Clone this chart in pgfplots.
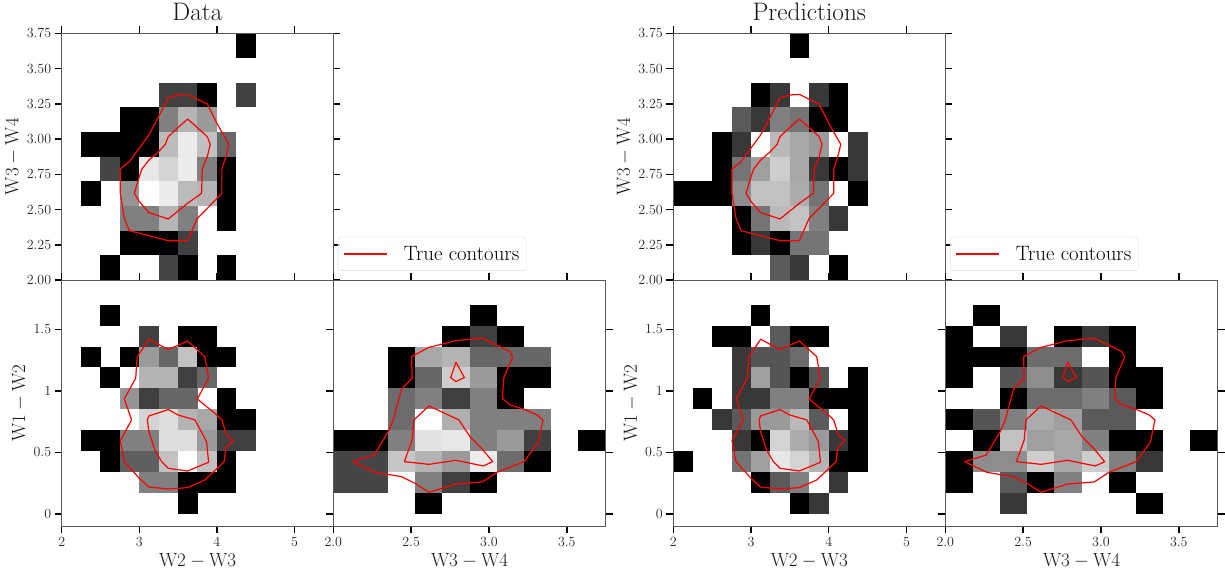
\RequirePackage{fix-cm}
\documentclass[border=0pt]{standalone}
\usepackage{fontspec}
\usepackage{pgfplots}
\usepackage{pgfplotstable}
\pgfplotsset{compat=1.18}
\pgfdeclareplotmark{cellA}{\pgfpathrectangle{\pgfpoint{-9.72pt}{-12.34pt}}{\pgfpoint{19.44pt}{24.68pt}}\pgfusepathqfill}
\pgfdeclareplotmark{cellB}{\pgfpathrectangle{\pgfpoint{-9.72pt}{-10.47pt}}{\pgfpoint{19.44pt}{20.94pt}}\pgfusepathqfill}
\pgfdeclareplotmark{cellC}{\pgfpathrectangle{\pgfpoint{-13.62pt}{-10.47pt}}{\pgfpoint{27.24pt}{20.94pt}}\pgfusepathqfill}

% ---- Data panels
\pgfplotstableread[row sep=\\]{
x y c\\
4.375 3.6625 0\\
3.375 3.3125 .25\\ 3.625 3.3125 .25\\ 3.875 3.3125 0\\ 4.375 3.3125 .25\\
2.875 3.1375 0\\ 3.125 3.1375 0\\ 3.375 3.1375 .5\\ 3.625 3.1375 .7\\ 3.875 3.1375 .6\\
2.375 2.9625 0\\ 2.625 2.9625 0\\ 2.875 2.9625 0\\ 3.125 2.9625 0\\ 3.375 2.9625 .73\\ 3.625 2.9625 .92\\ 3.875 2.9625 .75\\ 4.125 2.9625 .4\\
2.625 2.7875 .27\\ 2.875 2.7875 0\\ 3.125 2.7875 .9\\ 3.375 2.7875 .82\\ 3.625 2.7875 .92\\ 3.875 2.7875 .5\\ 4.125 2.7875 0\\
2.375 2.6125 0\\ 2.875 2.6125 .58\\ 3.375 2.6125 .92\\ 3.625 2.6125 .73\\ 3.875 2.6125 .7\\ 4.125 2.6125 0\\
2.875 2.4375 .5\\ 3.125 2.4375 .5\\ 3.375 2.4375 .7\\ 3.625 2.4375 .5\\ 4.125 2.4375 0\\
2.875 2.2625 0\\ 3.125 2.2625 0\\ 3.375 2.2625 0\\ 3.625 2.2625 .25\\
2.625 2.0875 0\\ 3.375 2.0875 .27\\ 3.625 2.0875 0\\ 4.125 2.0875 0\\
}\dataTop
\pgfplotstableread[row sep=\\]{
x y c\\
2.625 1.615 0\\
3.125 1.445 .25\\ 3.625 1.445 0\\ 3.875 1.445 0\\
2.375 1.275 0\\ 2.875 1.275 0\\ 3.125 1.275 .6\\ 3.375 1.275 .4\\ 3.625 1.275 .75\\ 3.875 1.275 0\\ 4.125 1.275 0\\
2.625 1.105 0\\ 3.125 1.105 .7\\ 3.375 1.105 .7\\ 3.625 1.105 .25\\ 3.875 1.105 .4\\
2.875 .935 .58\\ 3.125 .935 .25\\ 3.375 .935 .4\\ 3.625 .935 .4\\ 4.125 .935 0\\
3.125 .765 .82\\ 3.375 .765 .86\\ 3.625 .765 .7\\ 3.875 .765 .65\\ 4.125 .765 0\\ 4.375 .765 0\\
2.375 .595 0\\ 2.625 .595 0\\ 2.875 .595 .5\\ 3.125 .595 .5\\ 3.375 .595 .86\\ 3.625 .595 .86\\ 3.875 .595 .6\\ 4.125 .595 .25\\ 4.375 .595 .25\\
2.625 .425 0\\ 2.875 .425 .37\\ 3.125 .425 .37\\ 3.375 .425 .75\\ 3.875 .425 .75\\ 4.125 .425 0\\
3.125 .255 .5\\ 3.375 .255 .5\\ 3.625 .255 0\\ 3.875 .255 0\\ 4.125 .255 0\\
3.625 .085 0\\
}\dataLL
\pgfplotstableread[row sep=\\]{
x y c\\
2.9625 1.615 0\\
2.7875 1.445 0\\ 2.9625 1.445 .25\\ 3.1375 1.445 0\\
2.4375 1.275 0\\ 2.6125 1.275 .65\\ 2.7875 1.275 .7\\ 2.9625 1.275 .4\\ 3.1375 1.275 .4\\ 3.3125 1.275 .4\\
2.4375 1.105 0\\ 2.6125 1.105 .4\\ 2.7875 1.105 .8\\ 2.9625 1.105 .6\\ 3.1375 1.105 0\\ 3.3125 1.105 0\\
2.4375 .935 .42\\ 2.6125 .935 .5\\ 2.7875 .935 .25\\ 2.9625 .935 .5\\ 3.1375 .935 0\\
2.4375 .765 .42\\ 2.7875 .765 .68\\ 2.9625 .765 .5\\ 3.1375 .765 .5\\ 3.3125 .765 .5\\
2.0875 .595 0\\ 2.2625 .595 0\\ 2.4375 .595 .5\\ 2.6125 .595 .88\\ 2.7875 .595 .9\\ 2.9625 .595 .5\\ 3.1375 .595 .6\\ 3.3125 .595 .25\\ 3.6625 .595 0\\
2.0875 .425 .27\\ 2.2625 .425 .27\\ 2.4375 .425 .77\\ 2.6125 .425 .7\\ 2.7875 .425 .6\\ 2.9625 .425 .92\\ 3.1375 .425 .42\\ 3.3125 .425 0\\
2.0875 .255 .27\\ 2.2625 .255 .27\\ 2.6125 .255 .5\\ 2.7875 .255 .25\\ 2.9625 .255 0\\
2.6125 .085 0\\
}\dataLR

% ---- Prediction panels
\pgfplotstableread[row sep=\\]{
x y c\\
3.625 3.6625 0\\
3.125 3.3125 0\\ 3.375 3.3125 .22\\ 3.875 3.3125 .22\\ 4.125 3.3125 0\\
2.875 3.1375 .35\\ 3.125 3.1375 .22\\ 3.375 3.1375 .5\\ 3.625 3.1375 .45\\ 3.875 3.1375 0\\ 4.125 3.1375 0\\
2.625 2.9625 0\\ 2.875 2.9625 .22\\ 3.375 2.9625 .72\\ 3.625 2.9625 .65\\ 3.875 2.9625 .6\\ 4.375 2.9625 .22\\
2.625 2.7875 0\\ 2.875 2.7875 .45\\ 3.125 2.7875 .62\\ 3.375 2.7875 .8\\ 3.625 2.7875 .65\\ 3.875 2.7875 .22\\ 4.125 2.7875 0\\ 4.375 2.7875 .22\\
2.125 2.6125 0\\ 2.375 2.6125 0\\ 2.625 2.6125 0\\ 2.875 2.6125 .55\\ 3.125 2.6125 .75\\ 3.375 2.6125 .75\\ 3.625 2.6125 .67\\ 3.875 2.6125 .45\\ 4.375 2.6125 0\\
2.875 2.4375 0\\ 3.125 2.4375 .45\\ 3.375 2.4375 .72\\ 3.625 2.4375 .76\\ 3.875 2.4375 .5\\ 4.125 2.4375 .22\\
2.875 2.2625 0\\ 3.125 2.2625 .22\\ 3.375 2.2625 0\\ 3.625 2.2625 .45\\ 3.875 2.2625 .45\\
3.375 2.0875 .35\\ 3.625 2.0875 .22\\ 4.125 2.0875 0\\
}\predTop
\pgfplotstableread[row sep=\\]{
x y c\\
3.125 1.615 0\\
2.625 1.445 0\\ 2.875 1.445 0\\ 3.375 1.445 .35\\ 3.625 1.445 0\\ 3.875 1.445 0\\
2.875 1.275 .22\\ 3.125 1.275 .33\\ 3.375 1.275 .33\\ 3.625 1.275 .42\\
2.875 1.105 .22\\ 3.125 1.105 .62\\ 3.375 1.105 .33\\ 3.625 1.105 0\\ 3.875 1.105 .33\\ 4.375 1.105 0\\
2.375 .935 0\\ 2.875 .935 .22\\ 3.125 .935 .22\\ 3.375 .935 .5\\ 3.625 .935 .5\\ 3.875 .935 0\\ 4.125 .935 0\\ 4.375 .935 0\\
2.625 .765 .22\\ 2.875 .765 .35\\ 3.125 .765 .6\\ 3.375 .765 .6\\ 3.625 .765 .72\\ 3.875 .765 .35\\ 4.375 .765 0\\
2.875 .595 .22\\ 3.125 .595 0\\ 3.375 .595 .82\\ 3.625 .595 .67\\ 3.875 .595 .6\\ 4.125 .595 .22\\ 4.375 .595 0\\
2.125 .425 0\\ 2.875 .425 .45\\ 3.125 .425 .62\\ 3.375 .425 .9\\ 3.625 .425 .82\\ 3.875 .425 .7\\ 4.125 .425 0\\ 4.375 .425 0\\
3.125 .255 0\\ 3.375 .255 .35\\ 3.625 .255 .5\\ 4.125 .255 .22\\
3.625 .085 0\\ 3.875 .085 .22\\
}\predLL
\pgfplotstableread[row sep=\\]{
x y c\\
2.2625 1.615 0\\
2.0875 1.445 0\\ 2.4375 1.445 .22\\ 2.7875 1.445 0\\ 2.9625 1.445 .22\\ 3.1375 1.445 0\\
2.0875 1.275 0\\ 2.2625 1.275 0\\ 2.4375 1.275 0\\ 2.6125 1.275 .42\\ 2.7875 1.275 .42\\ 3.1375 1.275 0\\
2.0875 1.105 0\\ 2.4375 1.105 .33\\ 2.6125 1.105 .55\\ 2.7875 1.105 .22\\ 2.9625 1.105 .33\\ 3.1375 1.105 0\\ 3.3125 1.105 0\\
2.4375 .935 0\\ 2.6125 .935 .42\\ 2.7875 .935 .42\\ 2.9625 .935 .5\\ 3.1375 .935 .35\\ 3.3125 .935 0\\
2.0875 .765 0\\ 2.2625 .765 .33\\ 2.4375 .765 .5\\ 2.6125 .765 .67\\ 2.7875 .765 .62\\ 2.9625 .765 .35\\ 3.1375 .765 .35\\
2.2625 .595 0\\ 2.4375 .595 .75\\ 2.6125 .595 .62\\ 2.7875 .595 .65\\ 2.9625 .595 .5\\ 3.1375 .595 0\\ 3.3125 .595 0\\ 3.6625 .595 0\\
2.0875 .425 0\\ 2.2625 .425 .55\\ 2.4375 .425 .55\\ 2.6125 .425 .8\\ 2.7875 .425 .65\\ 2.9625 .425 .8\\ 3.1375 .425 .5\\ 3.3125 .425 .22\\
2.0875 .255 0\\ 2.4375 .255 .35\\ 2.6125 .255 0\\ 2.7875 .255 .5\\ 3.1375 .255 0\\
2.4375 .085 .22\\ 3.3125 .085 0\\
}\predLR

\pgfplotsset{
  panel/.style={
    scale only axis, axis on top, clip marker paths=true,
    colormap/blackwhite, point meta min=0, point meta max=1,
    axis background/.style={fill=white},
    axis line style={draw=black!65, line width=0.9pt},
    tick align=outside, xtick pos=both, ytick pos=both,
    xticklabel pos=bottom, yticklabel pos=left,
    major tick length=7pt, minor tick num=0,
    every tick/.style={black, line width=1.5pt},
    tick label style={font=\fontsize{14}{14}\selectfont, black!85},
    label style={font=\fontsize{19}{19}\selectfont, black!90},
    title style={font=\fontsize{25.3}{25.3}\selectfont, black!90, yshift=3pt},
    scaled ticks=false,
    clip=true,
  },
  topP/.style={panel, xmin=2, xmax=5.5, ymin=2, ymax=3.75, height=246.7pt,
    xtick={2,3,4,5}, xticklabels={},
    ytick={2,2.25,2.5,2.75,3,3.25,3.5,3.75},
    yticklabels={2.00,2.25,2.50,2.75,3.00,3.25,3.50,3.75},
    ylabel={$\mathrm{W3}-\mathrm{W4}$}},
  llP/.style={panel, xmin=2, xmax=5.5, ymin=-0.1, ymax=1.9, height=246.3pt,
    xtick={2,3,4,5}, xticklabels={2,3,4,5},
    ytick={0,0.5,1,1.5}, yticklabels={0,0.5,1,1.5},
    xlabel={$\mathrm{W2}-\mathrm{W3}$}, ylabel={$\mathrm{W1}-\mathrm{W2}$}},
  lrP/.style={panel, xmin=2, xmax=3.75, ymin=-0.1, ymax=1.9, height=246.3pt,
    xtick={2,2.5,3,3.5}, xticklabels={2.0,2.5,3.0,3.5},
    ytick={0,0.5,1,1.5}, yticklabels={},
    xlabel={$\mathrm{W3}-\mathrm{W4}$},
    legend style={at={(0.017,1.037)}, anchor=south west, draw=black!15, rounded corners=3pt,
      fill=white, fill opacity=0.8, text opacity=1, inner xsep=5pt, inner ysep=7pt,
      font=\fontsize{20.8}{20.8}\selectfont, /tikz/every even column/.style={column sep=0pt}},
    legend image code/.code={\draw[draw=red, line width=1.3pt] (0pt,0pt) -- (43pt,0pt); \path[draw=none] (0pt,0pt) -- (58pt,0pt);},
    legend cell align=left},
  cont/.style={draw=red, line width=1.2pt, no marks, sharp plot, line join=round},
}
\newcommand\contTop{
  \addplot[cont, forget plot] coordinates {(2.755,2.787)(2.871,2.839)(3.124,3.029)(3.249,3.159)(3.373,3.293)(3.498,3.312)(3.622,3.317)(3.747,3.282)(3.876,3.249)(4.0,3.111)(4.155,2.962)(4.116,2.875)(4.064,2.787)(4.064,2.615)(3.876,2.508)(3.747,2.437)(3.622,2.279)(3.373,2.279)(2.871,2.35)(2.807,2.437)(2.755,2.615)(2.755,2.787)};
  \addplot[cont, forget plot] coordinates {(2.936,2.615)(3.0,2.733)(3.034,2.787)(3.124,2.851)(3.249,2.91)(3.335,2.962)(3.373,3.017)(3.498,3.081)(3.622,3.142)(3.747,3.081)(3.876,3.017)(3.914,2.962)(3.876,2.875)(3.811,2.787)(3.803,2.615)(3.622,2.544)(3.373,2.433)(3.124,2.478)(3.0,2.556)(2.936,2.615)};
}
\newcommand\contLL{
  \addplot[cont, forget plot] coordinates {(2.755,.596)(2.901,.764)(2.807,.934)(2.953,1.102)(2.974,1.278)(3.124,1.419)(3.373,1.335)(3.622,1.405)(3.845,1.278)(3.893,1.102)(3.747,.934)(3.867,.872)(3.974,.818)(4.064,.764)(4.124,.642)(4.21,.596)(4.116,.539)(4.094,.425)(3.845,.276)(3.622,.214)(3.373,.203)(3.124,.219)(3.0,.29)(2.807,.425)(2.755,.596)};
  \addplot[cont, forget plot] coordinates {(3.103,.764)(3.124,.669)(3.2,.52)(3.288,.425)(3.373,.371)(3.622,.349)(3.893,.42)(3.867,.588)(3.717,.764)(3.498,.804)(3.373,.848)(3.124,.796)(3.103,.764)};
}
\newcommand\contLR{
  \addplot[cont] coordinates {(2.124,.425)(2.263,.479)(2.353,.669)(2.385,.764)(2.439,1.015)(2.507,1.102)(2.503,1.278)(2.61,1.351)(2.788,1.408)(2.957,1.427)(3.135,1.319)(3.152,1.273)(3.096,1.108)(3.086,.94)(3.135,.885)(3.225,.85)(3.31,.804)(3.347,.764)(3.317,.582)(3.225,.425)(3.051,.338)(2.957,.26)(2.788,.244)(2.615,.176)(2.525,.249)(2.439,.303)(2.268,.338)(2.124,.425)};
  \addlegendentry{True contours}
  \addplot[cont, forget plot] coordinates {(2.456,.425)(2.507,.601)(2.518,.764)(2.615,.877)(2.807,.764)(2.878,.628)(2.953,.533)(3.024,.425)(2.964,.39)(2.786,.436)(2.615,.403)(2.456,.425)};
  \addplot[cont, forget plot] coordinates {(2.788,1.232)(2.754,1.108)(2.788,1.075)(2.842,1.108)(2.788,1.232)};
}
\begin{document}
\begin{tikzpicture}[x=1pt,y=1pt]
\useasboundingbox (0,0) rectangle (1225,576);
% Data
\begin{axis}[topP, at={(61.7pt,296pt)}, anchor=south west, width=271.6pt, title={Data}]
\addplot[scatter, only marks, scatter src=explicit, mark=cellA, forget plot] table[meta=c] {\dataTop};
\contTop
\end{axis}
\begin{axis}[llP, at={(61.7pt,49.7pt)}, anchor=south west, width=271.6pt]
\addplot[scatter, only marks, scatter src=explicit, mark=cellB, forget plot] table[meta=c] {\dataLL};
\contLL
\end{axis}
\begin{axis}[lrP, at={(333.3pt,49.7pt)}, anchor=south west, width=272.4pt]
\addplot[scatter, only marks, scatter src=explicit, mark=cellC, forget plot] table[meta=c] {\dataLR};
\contLR
\end{axis}
% Predictions
\begin{axis}[topP, at={(673.3pt,296pt)}, anchor=south west, width=272pt, title={Predictions}]
\addplot[scatter, only marks, scatter src=explicit, mark=cellA, forget plot] table[meta=c] {\predTop};
\contTop
\end{axis}
\begin{axis}[llP, at={(673.3pt,49.7pt)}, anchor=south west, width=272pt]
\addplot[scatter, only marks, scatter src=explicit, mark=cellB, forget plot] table[meta=c] {\predLL};
\contLL
\end{axis}
\begin{axis}[lrP, at={(945.3pt,49.7pt)}, anchor=south west, width=272.4pt]
\addplot[scatter, only marks, scatter src=explicit, mark=cellC, forget plot] table[meta=c] {\predLR};
\contLR
\end{axis}
\end{tikzpicture}
\end{document}
